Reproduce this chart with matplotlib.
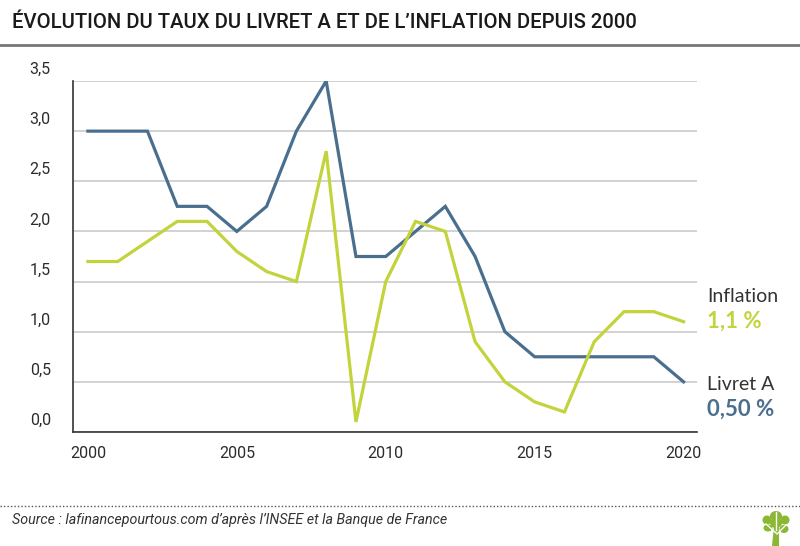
import matplotlib
matplotlib.use("Agg")
import matplotlib.pyplot as plt
import matplotlib.transforms as mtransforms
from matplotlib.patches import Ellipse, Polygon

years = list(range(2000, 2021))
livret_a = [3.0, 3.0, 3.0, 2.25, 2.25, 2.0, 2.25, 3.0, 3.5, 1.75, 1.75,
            2.0, 2.25, 1.75, 1.0, 0.75, 0.75, 0.75, 0.75, 0.75, 0.5]
inflation = [1.7, 1.7, 1.9, 2.1, 2.1, 1.8, 1.6, 1.5, 2.8, 0.1, 1.5,
             2.1, 2.0, 0.9, 0.5, 0.3, 0.2, 0.9, 1.2, 1.2, 1.1]
y_ticks = [0.0, 0.5, 1.0, 1.5, 2.0, 2.5, 3.0, 3.5]
x_ticks = [2000, 2005, 2010, 2015, 2020]

BLUE = "#4a6f8e"
GREEN = "#c3d33c"
DARK = "#2b2b2b"
W, H = 800, 546

plt.rcParams['font.family'] = ['Roboto', 'DejaVu Sans']

fig = plt.figure(figsize=(8, 5.46), dpi=100)
ax = fig.add_axes([73/W, 1-432/H, (697-73)/W, (432-81)/H])

ax.plot(years, livret_a, color=BLUE, lw=2.3, solid_joinstyle='miter', zorder=3)
ax.plot(years, inflation, color=GREEN, lw=2.3, solid_joinstyle='miter', zorder=3)

ax.set_xlim(1999.5, 2020.45)
ax.set_ylim(0, 3.5)
ax.set_yticks(y_ticks)
ax.set_yticklabels([f"{v:.1f}".replace('.', ',') for v in y_ticks])
ax.set_xticks(x_ticks)
ax.grid(axis='y', color='#cfcfcf', lw=1.3)
ax.set_axisbelow(True)
for s in ['top', 'right']:
    ax.spines[s].set_visible(False)
for s in ['left', 'bottom']:
    ax.spines[s].set_color('#333333')
    ax.spines[s].set_linewidth(1.2)
ax.tick_params(axis='both', length=0, labelsize=11.5, colors=DARK)
ax.tick_params(axis='y', pad=16)
ax.tick_params(axis='x', pad=10)
# y labels sit above their gridlines
shift = mtransforms.ScaledTranslation(0, 13/100, fig.dpi_scale_trans)
for lab in ax.get_yticklabels():
    lab.set_transform(lab.get_transform() + shift)

renderer = fig.canvas.get_renderer()

def fit_width(t, target_px):
    # shrink/grow font so the text spans the same width as in the reference
    w = t.get_window_extent(renderer).width
    t.set_fontsize(t.get_fontsize() * target_px / w)

# title and rule
title = fig.text(12/W, 1-23/H, "ÉVOLUTION DU TAUX DU LIVRET A ET DE L’INFLATION DEPUIS 2000",
                 fontsize=16, color='#1a1a1a', va='center', ha='left', fontweight='medium')
fit_width(title, 625)
fig.add_artist(plt.Line2D([0, 1], [1-45/H]*2, color='#777777', lw=2))

# end labels
lab_font = ['Lato', 'DejaVu Sans']
fig.text(707/W, 1-297/H, "Inflation", fontsize=14, color='#333333', va='center', family=lab_font)
fig.text(707/W, 1-321/H, "1,1 %", fontsize=16, color=GREEN, va='center',
         fontweight='bold', family=lab_font)
fig.text(707/W, 1-384/H, "Livret A", fontsize=14, color='#333333', va='center', family=lab_font)
fig.text(707/W, 1-409/H, "0,50 %", fontsize=16, color=BLUE, va='center',
         fontweight='bold', family=lab_font)

# footer
fig.add_artist(plt.Line2D([0, 1], [1-506/H]*2, color='#555555', lw=1,
                          linestyle=(0, (1, 1.5))))
src = fig.text(12/W, 1-520/H, "Source : lafinancepourtous.com d’après l’INSEE et la Banque de France",
               fontsize=11, style='italic', color='#333333', va='center')
fit_width(src, 434)

# little tree logo
TREE = '#8ab833'
def px(x, y):
    return (x/W, 1-y/H)

tree = [Ellipse(px(776, 516), 12/W, 10/H),
        Ellipse(px(767, 520), 9/W, 9/H),
        Ellipse(px(785, 520), 9/W, 9/H),
        Ellipse(px(768, 528), 9/W, 7/H),
        Ellipse(px(784, 529), 9/W, 8/H),
        Ellipse(px(776, 523), 12/W, 10/H),
        Polygon([px(774, 526), px(779, 526), px(779, 546), px(772, 546)], closed=True)]
for p in tree:
    p.set_facecolor(TREE)
    p.set_edgecolor('none')
    p.set_transform(fig.transFigure)
    fig.add_artist(p)
for (x0, y0), (x1, y1) in [((776, 533), (766, 524)), ((777, 534), (786, 525)), ((776, 530), (776, 512))]:
    fig.add_artist(plt.Line2D([x0/W, x1/W], [1-y0/H, 1-y1/H], color='white', lw=1))

fig.savefig("out.png", dpi=100)
